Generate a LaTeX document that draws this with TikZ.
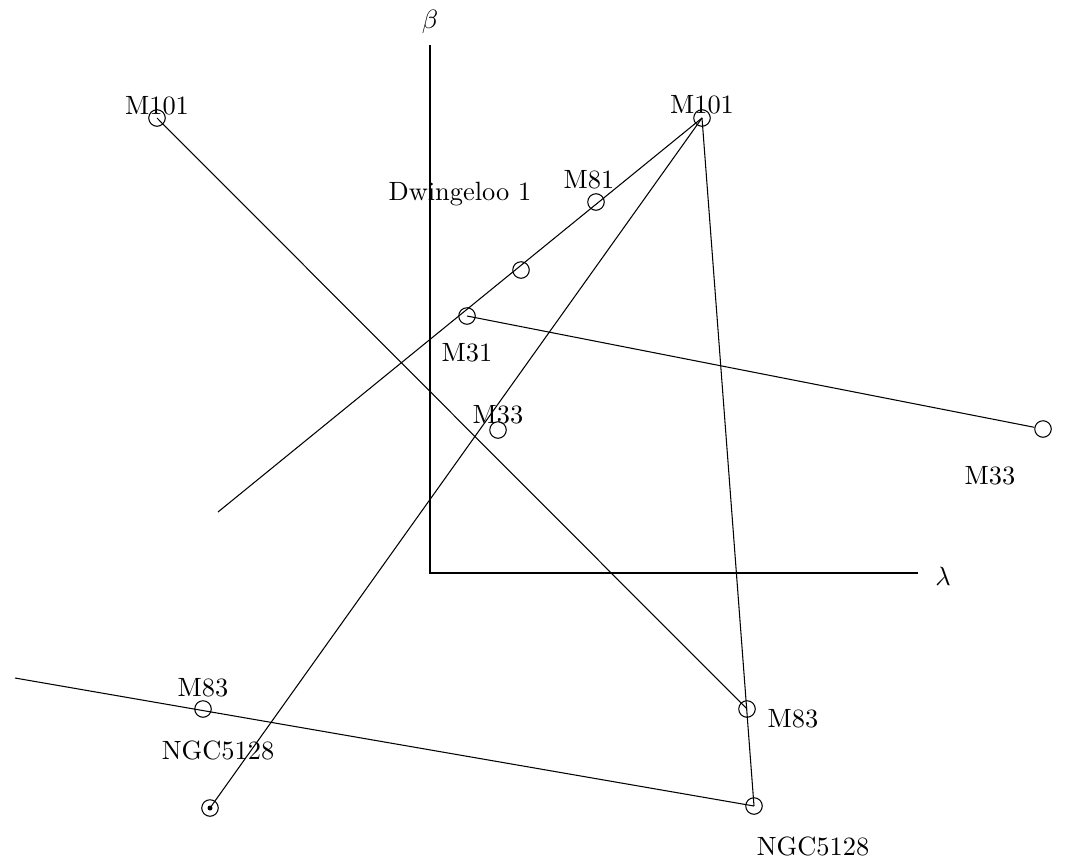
\documentclass[tikz,border=0pt]{standalone}
\usepackage{amsmath, amssymb}

\begin{document}
\begin{tikzpicture}[x=0.0133cm, y=-0.0133cm,
    galaxy/.style={circle, draw, inner sep=0pt, minimum size=0.22cm},
    galtext/.style={inner sep=1pt}]
    \useasboundingbox (0,0) rectangle (1065,865);

    % Draw axes
    \coordinate (origin) at (430,573);
    \coordinate (btop) at (430,45);
    \coordinate (lend) at (918,573);
    \draw (btop) -- (origin) -- (lend);
    \node (beta) at (430,22) {$\beta$};
    \node (lambda) at (943,576) {$\lambda$};

    % Draw nodes
    \node[galaxy] (m101a) at (157,118) {};
    \node[galaxy] (m101b) at (702,118) {};
    \node[galaxy] (m81) at (596,202) {};
    \node[galaxy] (dw1) at (521,270) {};
    \node[galaxy] (m31) at (467,316) {};
    \node[galaxy] (m33a) at (498,430) {};
    \node[galaxy] (m33b) at (1043,429) {};
    \node[galaxy] (m83a) at (203,709) {};
    \node[galaxy] (m83b) at (747,709) {};
    \node[galaxy] (ngca) at (210,808) {};
    \node[galaxy] (ngcb) at (754,806) {};
    \fill (ngca.center) circle (2.5);
    \coordinate (free1) at (218,512);
    \coordinate (free2) at (15,678);

    % Draw connections
    \draw (m101a.center) -- (m83b.center);
    \draw (m101b.center) -- (ngcb.center);
    \draw (m101b.center) -- (ngca.center);
    \draw (m101b.center) -- (free1);
    \draw (m31.center) -- (m33b);
    \draw (free2) -- (ngcb.center);

    % Labels
    \node[galtext] (lm101a) at (157,106) {M101};
    \node[galtext] (lm101b) at (702,105) {M101};
    \node[galtext] (lm81) at (589,180) {M81};
    \node[galtext] (ldw1) at (460,194) {Dwingeloo 1};
    \node[galtext] (lm31) at (467,353) {M31};
    \node[galtext] (lm33a) at (498,415) {M33};
    \node[galtext] (lm33b) at (990,476) {M33};
    \node[galtext] (lm83a) at (203,688) {M83};
    \node[galtext] (lm83b) at (793,719) {M83};
    \node[galtext] (lngca) at (218,750) {NGC5128};
    \node[galtext] (lngcb) at (813,846) {NGC5128};
\end{tikzpicture}
\end{document}
